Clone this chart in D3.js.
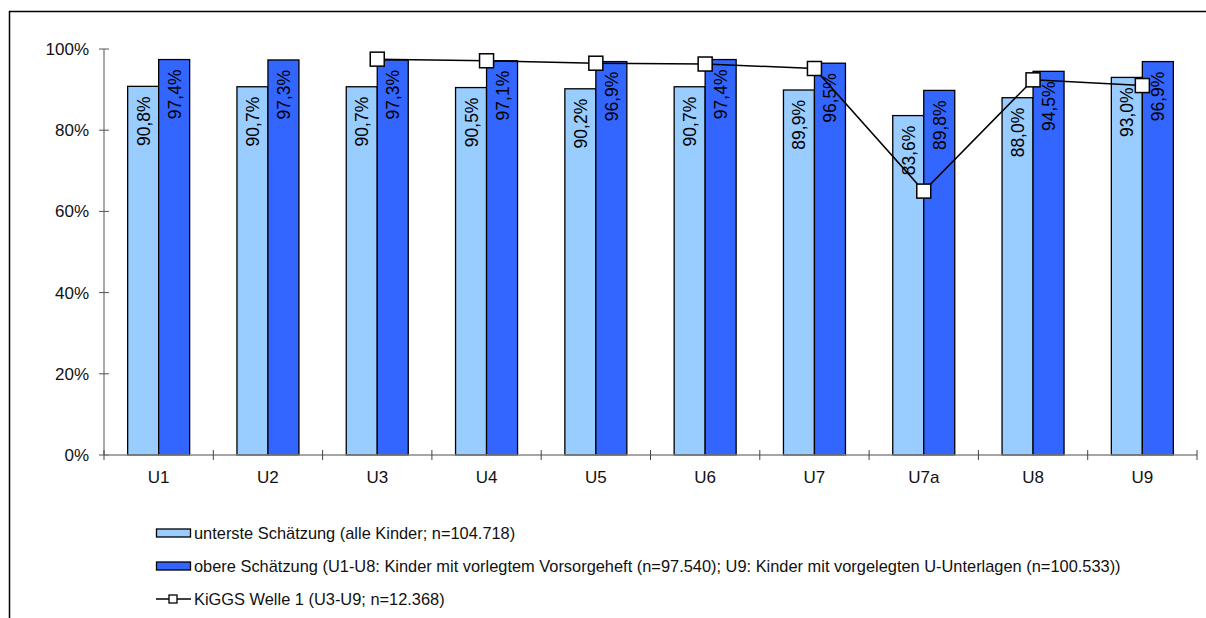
<!DOCTYPE html>
<html>
<head>
<meta charset="utf-8">
<script src="https://cdn.jsdelivr.net/npm/d3@7"></script>
<style>
  html, body { margin: 0; padding: 0; background: #fff; }
  svg { display: block; font-family: "Liberation Sans", Arial, sans-serif; }
</style>
</head>
<body>
<svg id="chart" width="1206" height="618"></svg>
<script>
// Vorsorgeuntersuchungen: Teilnahmequoten je U-Untersuchung
const categories = ["U1", "U2", "U3", "U4", "U5", "U6", "U7", "U7a", "U8", "U9"];
const lowerEstimate = [90.8, 90.7, 90.7, 90.5, 90.2, 90.7, 89.9, 83.6, 88.0, 93.0];
const upperEstimate = [97.4, 97.3, 97.3, 97.1, 96.9, 97.4, 96.5, 89.8, 94.5, 96.9];
const kiggsCategories = ["U3", "U4", "U5", "U6", "U7", "U7a", "U8", "U9"];
const kiggsValues = [97.5, 97.1, 96.5, 96.3, 95.2, 65.0, 92.4, 91.0];
const yTicks = [0, 20, 40, 60, 80, 100];
const legendLabels = [
  "unterste Schätzung (alle Kinder; n=104.718)",
  "obere Schätzung (U1-U8: Kinder mit vorlegtem Vorsorgeheft (n=97.540); U9: Kinder mit vorgelegten U-Unterlagen (n=100.533))",
  "KiGGS Welle 1 (U3-U9; n=12.368)"
];

const colLight = "#99CCFF";
const colDark = "#3366FF";

const svg = d3.select("#chart");

// outer frame
svg.append("rect")
  .attr("x", 9.5).attr("y", 11.5)
  .attr("width", 1400).attr("height", 800)
  .attr("fill", "none").attr("stroke", "#000").attr("stroke-width", 1.5);

const plot = { left: 104, right: 1197, top: 49, bottom: 455 };

const x = d3.scaleBand().domain(categories).range([plot.left, plot.right]).paddingInner(0).paddingOuter(0);
const y = d3.scaleLinear().domain([0, 100]).range([plot.bottom, plot.top]);

const barW = 31;

// bars
const groups = svg.append("g").selectAll("g")
  .data(categories.map((c, i) => ({ c, lo: lowerEstimate[i], hi: upperEstimate[i] })))
  .join("g");

groups.append("rect")
  .attr("x", d => x(d.c) + x.bandwidth() / 2 - barW)
  .attr("y", d => y(d.lo))
  .attr("width", barW)
  .attr("height", d => y(0) - y(d.lo))
  .attr("fill", colLight).attr("stroke", "#000").attr("stroke-width", 1.3);

groups.append("rect")
  .attr("x", d => x(d.c) + x.bandwidth() / 2)
  .attr("y", d => y(d.hi))
  .attr("width", barW)
  .attr("height", d => y(0) - y(d.hi))
  .attr("fill", colDark).attr("stroke", "#000").attr("stroke-width", 1.3);

// rotated value labels inside bar tops
const fmt = v => v.toFixed(1).replace(".", ",") + "%";
function valueLabel(sel, cx, val) {
  sel.append("text")
    .attr("transform", d => `translate(${cx(d) + 6.5},${y(val(d)) + 10}) rotate(-90)`)
    .attr("text-anchor", "end")
    .attr("font-size", 17.5)
    .attr("fill", "#000")
    .text(d => fmt(val(d)));
}
valueLabel(groups, d => x(d.c) + x.bandwidth() / 2 - barW / 2, d => d.lo);
valueLabel(groups, d => x(d.c) + x.bandwidth() / 2 + barW / 2, d => d.hi);

// y axis
const yAxis = svg.append("g");
yAxis.append("line")
  .attr("x1", plot.left).attr("x2", plot.left)
  .attr("y1", y(100)).attr("y2", y(0))
  .attr("stroke", "#555").attr("stroke-width", 1);
yAxis.selectAll(".yt").data(yTicks).join("line")
  .attr("x1", plot.left - 5).attr("x2", plot.left + 5)
  .attr("y1", d => y(d)).attr("y2", d => y(d))
  .attr("stroke", "#555").attr("stroke-width", 1);
yAxis.selectAll(".yl").data(yTicks).join("text")
  .attr("x", plot.left - 15).attr("y", d => y(d))
  .attr("dy", "0.35em").attr("text-anchor", "end")
  .attr("font-size", 17).attr("fill", "#111")
  .text(d => d + "%");

// x axis
const xAxis = svg.append("g");
xAxis.append("line")
  .attr("x1", plot.left).attr("x2", plot.right)
  .attr("y1", y(0)).attr("y2", y(0))
  .attr("stroke", "#888").attr("stroke-width", 1.5);
const xTickPos = categories.map(c => x(c)).concat([plot.right]);
xAxis.selectAll(".xt").data(xTickPos).join("line")
  .attr("x1", d => d).attr("x2", d => d)
  .attr("y1", y(0) - 5).attr("y2", y(0) + 5)
  .attr("stroke", "#444").attr("stroke-width", 1);
xAxis.selectAll(".xl").data(categories).join("text")
  .attr("x", d => x(d) + x.bandwidth() / 2).attr("y", y(0) + 28)
  .attr("text-anchor", "middle")
  .attr("font-size", 17).attr("fill", "#111")
  .text(d => d);

// KiGGS line
const kiggs = kiggsCategories.map((c, i) => ({ c, v: kiggsValues[i] }));
const line = d3.line().x(d => x(d.c) + x.bandwidth() / 2).y(d => y(d.v));
svg.append("path").datum(kiggs)
  .attr("d", line).attr("fill", "none")
  .attr("stroke", "#000").attr("stroke-width", 1.5);
const ms = 14;
svg.append("g").selectAll("rect").data(kiggs).join("rect")
  .attr("x", d => x(d.c) + x.bandwidth() / 2 - ms / 2)
  .attr("y", d => y(d.v) - ms / 2)
  .attr("width", ms).attr("height", ms)
  .attr("fill", "#fff").attr("stroke", "#000").attr("stroke-width", 1.5);

// legend
const legY = [533, 566, 599];
const lg = svg.append("g");
[colLight, colDark].forEach((col, i) => {
  lg.append("rect")
    .attr("x", 156.5).attr("y", legY[i] - 4)
    .attr("width", 34).attr("height", 8)
    .attr("fill", col).attr("stroke", "#000").attr("stroke-width", 1.3);
});
lg.append("line")
  .attr("x1", 156).attr("x2", 191)
  .attr("y1", legY[2]).attr("y2", legY[2])
  .attr("stroke", "#000").attr("stroke-width", 1.3);
lg.append("rect")
  .attr("x", 169).attr("y", legY[2] - 4)
  .attr("width", 8).attr("height", 8)
  .attr("fill", "#fff").attr("stroke", "#000").attr("stroke-width", 1.3);
lg.selectAll("text").data(legendLabels).join("text")
  .attr("x", 194).attr("y", (d, i) => legY[i])
  .attr("dy", "0.35em")
  .attr("font-size", 16.4).attr("fill", "#111")
  .text(d => d);
</script>
</body>
</html>
